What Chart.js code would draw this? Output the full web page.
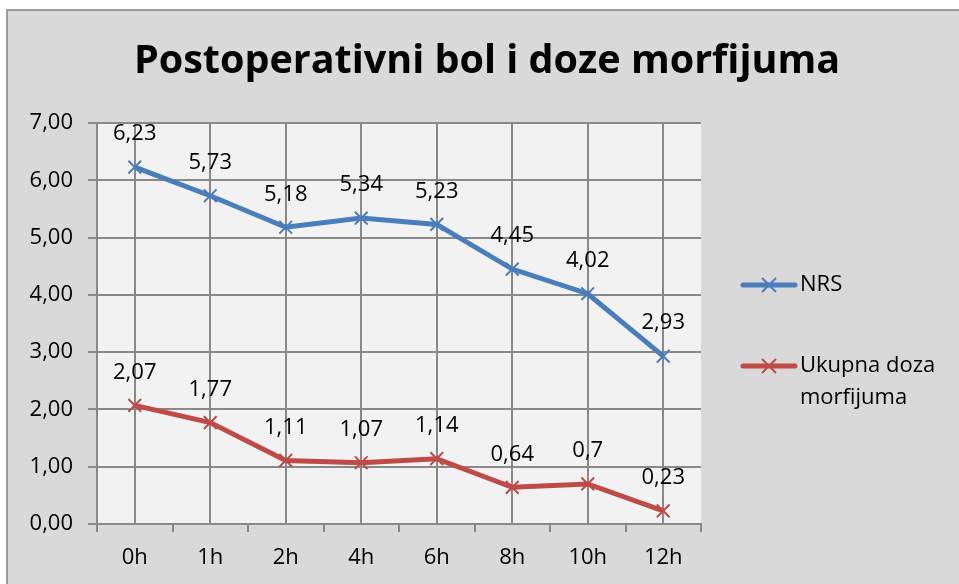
<!DOCTYPE html>
<html>
<head>
<meta charset="utf-8">
<script src="https://cdn.jsdelivr.net/npm/chart.js@4.4.1/dist/chart.umd.min.js"></script>
<style>
  html, body { margin: 0; padding: 0; background: #ffffff; }
  #wrap { width: 959px; height: 584px; position: relative; }
</style>
</head>
<body>
<div id="wrap"><canvas id="bolChart" width="959" height="584"></canvas></div>
<script>
var kategorije = ['0h', '1h', '2h', '4h', '6h', '8h', '10h', '12h'];
var nrs = [6.23, 5.73, 5.18, 5.34, 5.23, 4.45, 4.02, 2.93];
var dozaMorfijuma = [2.07, 1.77, 1.11, 1.07, 1.14, 0.64, 0.7, 0.23];
var yTicks = [0, 1, 2, 3, 4, 5, 6, 7];
var naslov = 'Postoperativni bol i doze morfijuma';
var nazivi = ['NRS', ['Ukupna doza', 'morfijuma']];

var plava = '#4a7ebb';
var crvena = '#be4b48';
var siva = '#898989';
var font = "'Open Sans', sans-serif";

function formatBroj(v) {
    // excel style: comma as decimal separator, no trailing zeros on labels
    return String(v).replace('.', ',');
}

var pozadina = {
    id: 'pozadina',
    beforeDraw: function (chart) {
        var ctx = chart.ctx;
        var a = chart.chartArea;
        ctx.save();
        ctx.fillStyle = '#ffffff';
        ctx.fillRect(0, 0, chart.width, chart.height);
        ctx.fillStyle = '#d9d9d9';
        ctx.fillRect(7, 10, chart.width - 7, chart.height - 10);
        ctx.strokeStyle = '#9a9a9a';
        ctx.lineWidth = 2;
        ctx.beginPath();
        ctx.moveTo(7, chart.height);
        ctx.lineTo(7, 10);
        ctx.lineTo(chart.width, 10);
        ctx.stroke();
        ctx.fillStyle = '#f2f2f2';
        ctx.fillRect(a.left, a.top, a.right - a.left, a.bottom - a.top);

        ctx.fillStyle = '#000000';
        ctx.font = "bold 39.5px " + font;
        ctx.textAlign = 'center';
        ctx.textBaseline = 'middle';
        ctx.fillText(naslov, 487, 62);
        ctx.restore();
    },
    afterDraw: function (chart) {
        var ctx = chart.ctx;
        var a = chart.chartArea;
        var n = kategorije.length;
        var korak = (a.right - a.left) / n;
        ctx.save();
        // tick marks between categories
        ctx.strokeStyle = siva;
        ctx.lineWidth = 2;
        ctx.beginPath();
        for (var i = 0; i <= n; i++) {
            var px = Math.round(a.left + i * korak);
            ctx.moveTo(px, a.bottom);
            ctx.lineTo(px, a.bottom + 8);
        }
        ctx.stroke();

        // data labels
        ctx.fillStyle = '#000000';
        ctx.font = "22px " + font;
        ctx.textAlign = 'center';
        ctx.textBaseline = 'middle';
        chart.data.datasets.forEach(function (ds, di) {
            var meta = chart.getDatasetMeta(di);
            meta.data.forEach(function (pt, j) {
                ctx.fillText(formatBroj(ds.data[j]), pt.x, pt.y - 33);
            });
        });

        // legend
        var stavke = [
            { boja: plava, y: 285, tekst: nazivi[0] },
            { boja: crvena, y: 366, tekst: nazivi[1] }
        ];
        stavke.forEach(function (s) {
            ctx.strokeStyle = s.boja;
            ctx.lineWidth = 5;
            ctx.lineCap = 'round';
            ctx.beginPath();
            ctx.moveTo(743, s.y);
            ctx.lineTo(795, s.y);
            ctx.stroke();
            ctx.lineWidth = 2;
            ctx.lineCap = 'butt';
            ctx.beginPath();
            ctx.moveTo(762, s.y - 7);
            ctx.lineTo(776, s.y + 7);
            ctx.moveTo(776, s.y - 7);
            ctx.lineTo(762, s.y + 7);
            ctx.stroke();
            ctx.fillStyle = '#000000';
            ctx.textAlign = 'left';
            var linije = Array.isArray(s.tekst) ? s.tekst : [s.tekst];
            linije.forEach(function (t, k) {
                ctx.fillText(t, 800, s.y + k * 32);
            });
        });
        ctx.restore();
    }
};

var ctx = document.getElementById('bolChart').getContext('2d');
var bolChart = new Chart(ctx, {
    type: 'line',
    data: {
        labels: kategorije,
        datasets: [
            {
                label: 'NRS',
                data: nrs,
                borderColor: plava,
                backgroundColor: plava,
                borderWidth: 5,
                pointStyle: 'crossRot',
                pointRadius: 9,
                pointBorderWidth: 2,
                pointBorderColor: plava,
                tension: 0
            },
            {
                label: 'Ukupna doza morfijuma',
                data: dozaMorfijuma,
                borderColor: crvena,
                backgroundColor: crvena,
                borderWidth: 5,
                pointStyle: 'crossRot',
                pointRadius: 9,
                pointBorderWidth: 2,
                pointBorderColor: crvena,
                tension: 0
            }
        ]
    },
    options: {
        responsive: false,
        animation: false,
        layout: {
            padding: {
                left: 0,
                right: 258,
                top: 123,
                bottom: 0
            }
        },
        scales: {
            x: {
                offset: true,
                afterFit: function (scale) {
                    scale.height = 60;
                },
                grid: {
                    offset: false,
                    color: siva,
                    lineWidth: 2,
                    drawTicks: false
                },
                border: {
                    color: siva,
                    width: 2
                },
                ticks: {
                    color: '#000000',
                    padding: 21,
                    font: {
                        family: font,
                        size: 22
                    }
                }
            },
            y: {
                min: 0,
                max: 7,
                afterFit: function (scale) {
                    scale.width = 97;
                },
                afterBuildTicks: function (scale) {
                    scale.ticks = yTicks.map(function (v) { return { value: v }; });
                },
                grid: {
                    color: siva,
                    lineWidth: 2,
                    tickLength: 9
                },
                border: {
                    color: siva,
                    width: 2
                },
                ticks: {
                    color: '#000000',
                    padding: 15,
                    font: {
                        family: font,
                        size: 22
                    },
                    callback: function (value) {
                        return value.toFixed(2).replace('.', ',');
                    }
                }
            }
        },
        plugins: {
            legend: { display: false },
            title: { display: false },
            tooltip: { enabled: false }
        }
    },
    plugins: [pozadina]
});
</script>
</body>
</html>
